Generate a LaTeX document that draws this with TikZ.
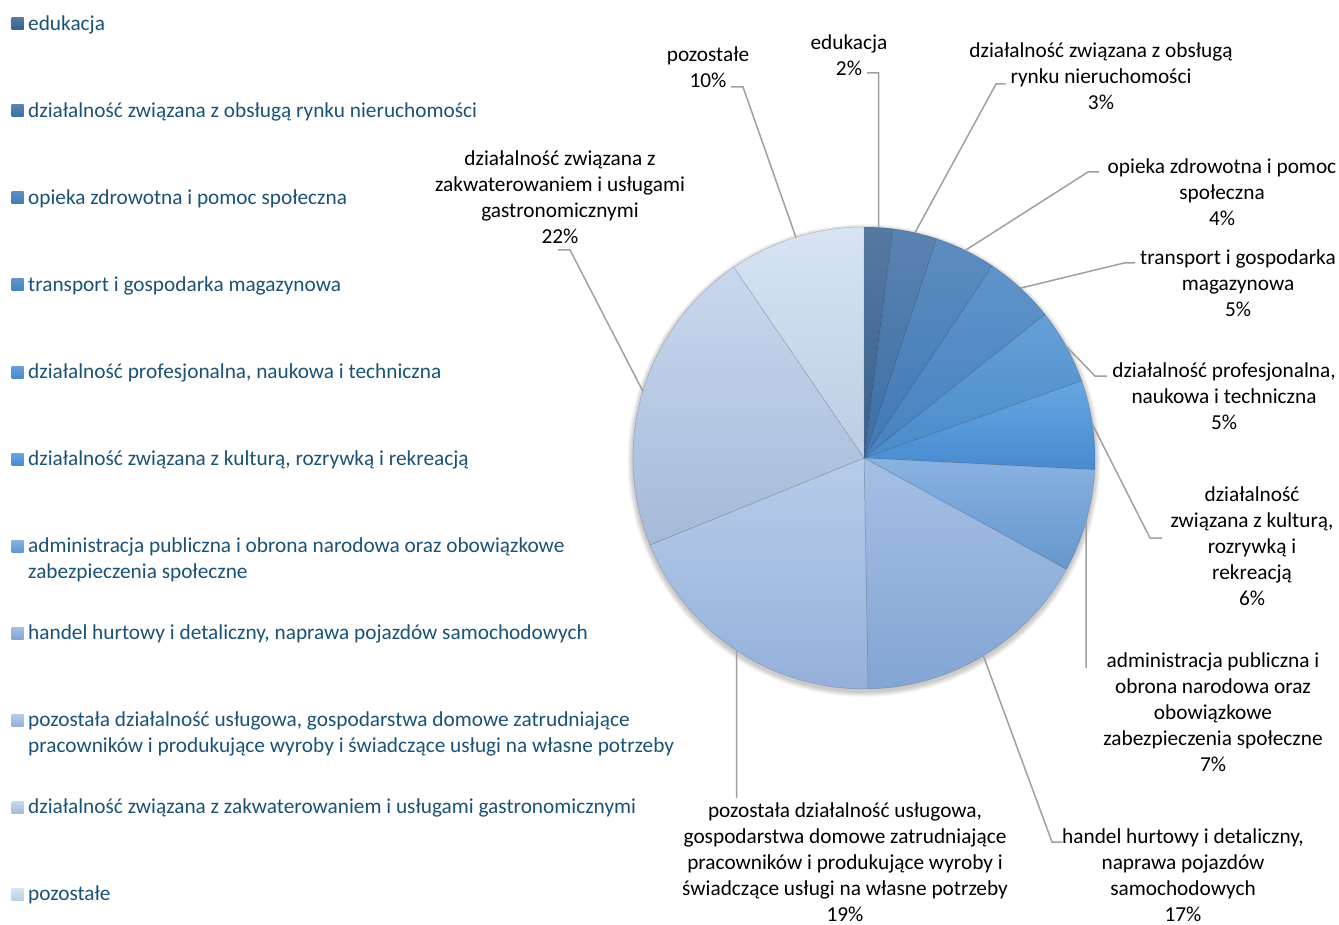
\documentclass[tikz,border=0pt]{standalone}
\usepackage{fontspec}
\setmainfont{Carlito}
\usetikzlibrary{calc}
\definecolor{legtext}{HTML}{1B5276}
\definecolor{leader}{HTML}{A0A0A0}
\definecolor{c1t}{HTML}{5679A3}\definecolor{c1b}{HTML}{375F8D}
\definecolor{c2t}{HTML}{5983B1}\definecolor{c2b}{HTML}{3C6FA6}
\definecolor{c3t}{HTML}{5C8CC0}\definecolor{c3b}{HTML}{4079B6}
\definecolor{c4t}{HTML}{6093C9}\definecolor{c4b}{HTML}{4682C1}
\definecolor{c5t}{HTML}{66A0D6}\definecolor{c5b}{HTML}{4A8BCB}
\definecolor{c6t}{HTML}{67A6E1}\definecolor{c6b}{HTML}{478BD0}
\definecolor{c7t}{HTML}{88B2E1}\definecolor{c7b}{HTML}{6597CE}
\definecolor{c8t}{HTML}{A3BFE5}\definecolor{c8b}{HTML}{83A5D3}
\definecolor{c9t}{HTML}{B7CCEA}\definecolor{c9b}{HTML}{94B0DA}
\definecolor{c10t}{HTML}{C8D8EE}\definecolor{c10b}{HTML}{A5BAD8}
\definecolor{c11t}{HTML}{D8E4F3}\definecolor{c11b}{HTML}{BCCDE4}
\newcommand\labfont{\fontsize{21.3}{26}\selectfont}
\begin{document}
\begin{tikzpicture}[x=1pt,y=-1pt,
  lbl/.style={align=center, inner sep=0pt, font=\labfont, text=black, yshift=-2.5pt},
  leg/.style={anchor=west, align=left, inner sep=0pt, font=\labfont, text=legtext, yshift=-2pt},
  sq/.style={minimum size=12pt, inner sep=0pt},
  ldr/.style={draw=leader, line width=1.5pt},
  wedge/.style={draw=black, draw opacity=0.18, line width=0.5pt}]
\path[fill=white] (0,0) rectangle (1339,925);
\useasboundingbox (0,0) rectangle (1339,925);
\coordinate (c) at (864,458);
% shadow
\foreach \i in {1,...,6}
  \fill[black, opacity=0.035] ($(c)+(0,2.5)$) circle[radius=231+\i*0.9];
% wedges
\foreach \a/\b/\n in {-90/-82.8/1, -82.8/-71.7/2, -71.7/-56.3/3, -56.3/-38.4/4,
   -38.4/-19.5/5, -19.5/2.9/6, 2.9/28.8/7, 28.8/89/8, 89/157.9/9, 157.9/235.7/10, 235.7/270/11}
  \path[wedge, top color=c\n t, bottom color=c\n b] (c) -- ($(c)+(\a:231)$)
     arc[start angle=\a, end angle=\b, radius=231] -- cycle;
% pie edge points
\coordinate (p-edu) at ($(c)+(-86.4:231)$);
\coordinate (p-obs) at ($(c)+(-77.25:231)$);
\coordinate (p-opi) at ($(c)+(-64:231)$);
\coordinate (p-tra) at ($(c)+(-47.35:231)$);
\coordinate (p-pro) at ($(c)+(-28.95:231)$);
\coordinate (p-kul) at ($(c)+(-8.3:231)$);
\coordinate (p-adm) at ($(c)+(15.85:231)$);
\coordinate (p-han) at ($(c)+(58.9:231)$);
\coordinate (p-pds) at ($(c)+(123.45:231)$);
\coordinate (p-zak) at ($(c)+(196.8:231)$);
\coordinate (p-poz) at ($(c)+(252.85:231)$);
% data labels
\node[lbl] (l-poz) at (708,67) {pozostałe\strut\\10\%\strut};
\node[lbl] (l-edu) at (849,55) {edukacja\strut\\2\%\strut};
\node[lbl] (l-obs) at (1101,76) {działalność związana z obsługą\strut\\rynku nieruchomości\strut\\3\%\strut};
\node[lbl] (l-opi) at (1222,192) {opieka zdrowotna i pomoc\strut\\społeczna\strut\\4\%\strut};
\node[lbl] (l-tra) at (1238,283) {transport i gospodarka\strut\\magazynowa\strut\\5\%\strut};
\node[lbl] (l-pro) at (1224,396) {działalność profesjonalna,\strut\\naukowa i techniczna\strut\\5\%\strut};
\node[lbl] (l-kul) at (1252,546) {działalność\strut\\związana z kulturą,\strut\\rozrywką i\strut\\rekreacją\strut\\6\%\strut};
\node[lbl] (l-adm) at (1213,712) {administracja publiczna i\strut\\obrona narodowa oraz\strut\\obowiązkowe\strut\\zabezpieczenia społeczne\strut\\7\%\strut};
\node[lbl] (l-han) at (1183,875) {handel hurtowy i detaliczny,\strut\\naprawa pojazdów\strut\\samochodowych\strut\\17\%\strut};
\node[lbl] (l-pds) at (845,862) {pozostała działalność usługowa,\strut\\gospodarstwa domowe zatrudniające\strut\\pracowników i produkujące wyroby i\strut\\świadczące usługi na własne potrzeby\strut\\19\%\strut};
\node[lbl] (l-zak) at (560,197) {działalność związana z\strut\\zakwaterowaniem i usługami\strut\\gastronomicznymi\strut\\22\%\strut};
% leader ticks
\coordinate (k-poz) at (731,87);   \coordinate (b-poz) at (743,87);
\coordinate (k-edu) at (867,73);   \coordinate (b-edu) at (878.5,73);
\coordinate (k-obs) at (1005.5,84);\coordinate (b-obs) at (996,84);
\coordinate (k-opi) at (1099,172); \coordinate (b-opi) at (1088,172);
\coordinate (k-tra) at (1135,263); \coordinate (b-tra) at (1124,263);
\coordinate (k-pro) at (1107,376); \coordinate (b-pro) at (1095,376);
\coordinate (k-kul) at (1162,538); \coordinate (b-kul) at (1150,538);
\coordinate (k-adm) at (1086.2,668);
\coordinate (k-han) at (1062,842); \coordinate (b-han) at (1052,842);
\coordinate (k-pds) at (736.7,798);
\coordinate (k-zak) at (558,250);  \coordinate (b-zak) at (570,250);
\draw[ldr] (k-poz) -- (b-poz) -- (p-poz);
\draw[ldr] (k-edu) -- (b-edu) -- (p-edu);
\draw[ldr] (k-obs) -- (b-obs) -- (p-obs);
\draw[ldr] (k-opi) -- (b-opi) -- (p-opi);
\draw[ldr] (k-tra) -- (b-tra) -- (p-tra);
\draw[ldr] (k-pro) -- (b-pro) -- (p-pro);
\draw[ldr] (k-kul) -- (b-kul) -- (p-kul);
\draw[ldr] (k-adm) -- (p-adm);
\draw[ldr] (k-han) -- (b-han) -- (p-han);
\draw[ldr] (k-pds) -- (p-pds);
\draw[ldr] (k-zak) -- (b-zak) -- (p-zak);
% legend
\node[sq, top color=c1t, bottom color=c1b] (s1) at (17.5,24) {};
\node[leg] (t1) at (28,23) {edukacja\strut};
\node[sq, top color=c2t, bottom color=c2b] (s2) at (17.5,111) {};
\node[leg] (t2) at (28,110) {działalność związana z obsługą rynku nieruchomości\strut};
\node[sq, top color=c3t, bottom color=c3b] (s3) at (17.5,198) {};
\node[leg] (t3) at (28,197) {opieka zdrowotna i pomoc społeczna\strut};
\node[sq, top color=c4t, bottom color=c4b] (s4) at (17.5,285) {};
\node[leg] (t4) at (28,284) {transport i gospodarka magazynowa\strut};
\node[sq, top color=c5t, bottom color=c5b] (s5) at (17.5,372) {};
\node[leg] (t5) at (28,371) {działalność profesjonalna, naukowa i techniczna\strut};
\node[sq, top color=c6t, bottom color=c6b] (s6) at (17.5,459) {};
\node[leg] (t6) at (28,458) {działalność związana z kulturą, rozrywką i rekreacją\strut};
\node[sq, top color=c7t, bottom color=c7b] (s7) at (17.5,546) {};
\node[leg] (t7) at (28,558) {administracja publiczna i obrona narodowa oraz obowiązkowe\strut\\zabezpieczenia społeczne\strut};
\node[sq, top color=c8t, bottom color=c8b] (s8) at (17.5,633) {};
\node[leg] (t8) at (28,632) {handel hurtowy i detaliczny, naprawa pojazdów samochodowych\strut};
\node[sq, top color=c9t, bottom color=c9b] (s9) at (17.5,720) {};
\node[leg] (t9) at (28,732) {pozostała działalność usługowa, gospodarstwa domowe zatrudniające\strut\\pracowników i produkujące wyroby i świadczące usługi na własne potrzeby\strut};
\node[sq, top color=c10t, bottom color=c10b] (s10) at (17.5,807) {};
\node[leg] (t10) at (28,806) {działalność związana z zakwaterowaniem i usługami gastronomicznymi\strut};
\node[sq, top color=c11t, bottom color=c11b] (s11) at (17.5,894) {};
\node[leg] (t11) at (28,893) {pozostałe\strut};
\end{tikzpicture}
\end{document}
